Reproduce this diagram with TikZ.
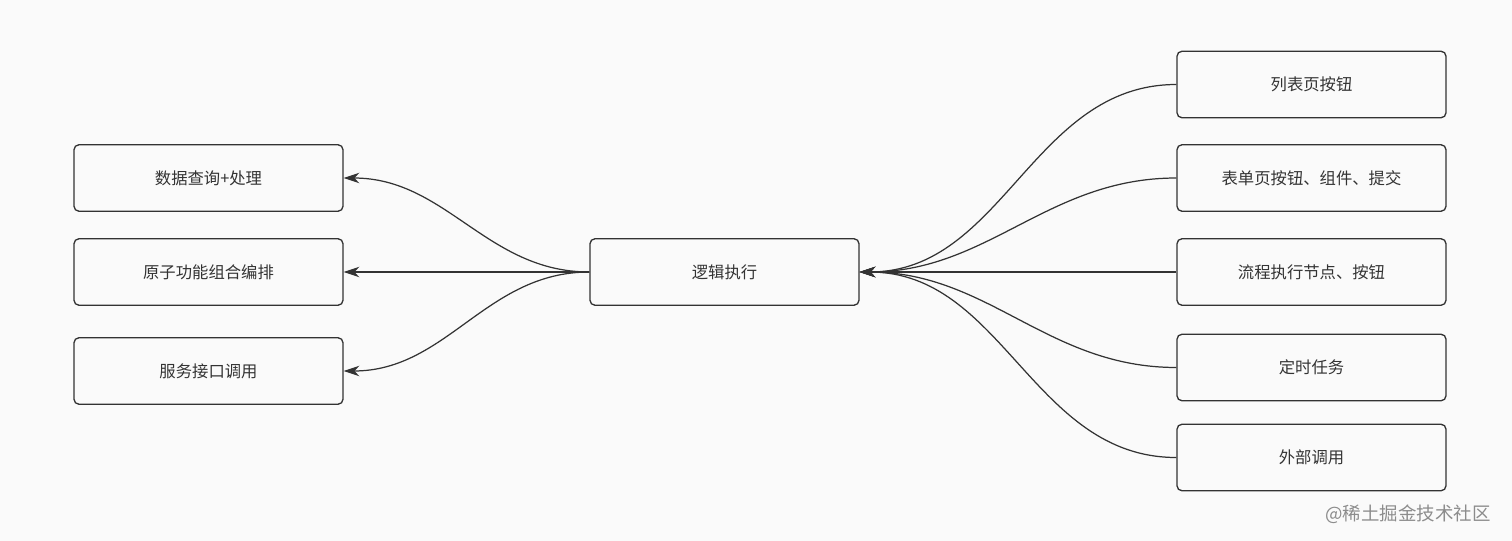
\documentclass[tikz,border=0pt]{standalone}
\usepackage{fontspec}
\setmainfont{Noto Sans CJK SC}
\usepackage{tikz}
\usetikzlibrary{arrows.meta}
\definecolor{bgcol}{HTML}{FAFAFA}
\definecolor{linecol}{HTML}{333333}

\begin{document}
\begin{tikzpicture}[x=0.02cm, y=-0.02cm, >={Stealth[length=9pt,width=6pt]},
    box/.style={draw=linecol, line width=0.75pt, rounded corners=2.8pt, fill=bgcol,
      minimum width=5.38cm, minimum height=1.33cm, inner sep=0pt,
      font=\fontsize{9.3}{11}\selectfont, text=black!80},
    link/.style={draw=linecol, line width=0.7pt}]
  \fill[bgcol] (0,0) rectangle (1512,541);
  \useasboundingbox (0,0) rectangle (1512,541);

  % middle
  \node[box] (logic) at (724.5,272) {逻辑执行};

  % left side
  \node[box] (query) at (208.5,178) {数据查询+处理};
  \node[box] (atom)  at (208.5,272) {原子功能组合编排};
  \node[box] (api)   at (208.5,371) {服务接口调用};

  % right side
  \node[box] (list)  at (1311.5,84.5) {列表页按钮};
  \node[box] (form)  at (1311.5,178)  {表单页按钮、组件、提交};
  \node[box] (flow)  at (1311.5,272)  {流程执行节点、按钮};
  \node[box] (timer) at (1311.5,367.5) {定时任务};
  \node[box] (ext)   at (1311.5,457.5) {外部调用};

  \draw[link,->] (logic.west) to[out=180,in=0] (query.east);
  \draw[link,->] (logic.west) -- (atom.east);
  \draw[link,->] (logic.west) to[out=180,in=0] (api.east);

  \draw[link,->] (list.west)  to[out=180,in=0] (logic.east);
  \draw[link,->] (form.west)  to[out=180,in=0] (logic.east);
  \draw[link,->] (flow.west)  -- (logic.east);
  \draw[link,->] (timer.west) to[out=180,in=0] (logic.east);
  \draw[link,->] (ext.west)   to[out=180,in=0] (logic.east);

  \node[text=black!45, font=\fontsize{10.5}{12}\selectfont] (mark) at (1408,514) {@稀土掘金技术社区};
\end{tikzpicture}
\end{document}
